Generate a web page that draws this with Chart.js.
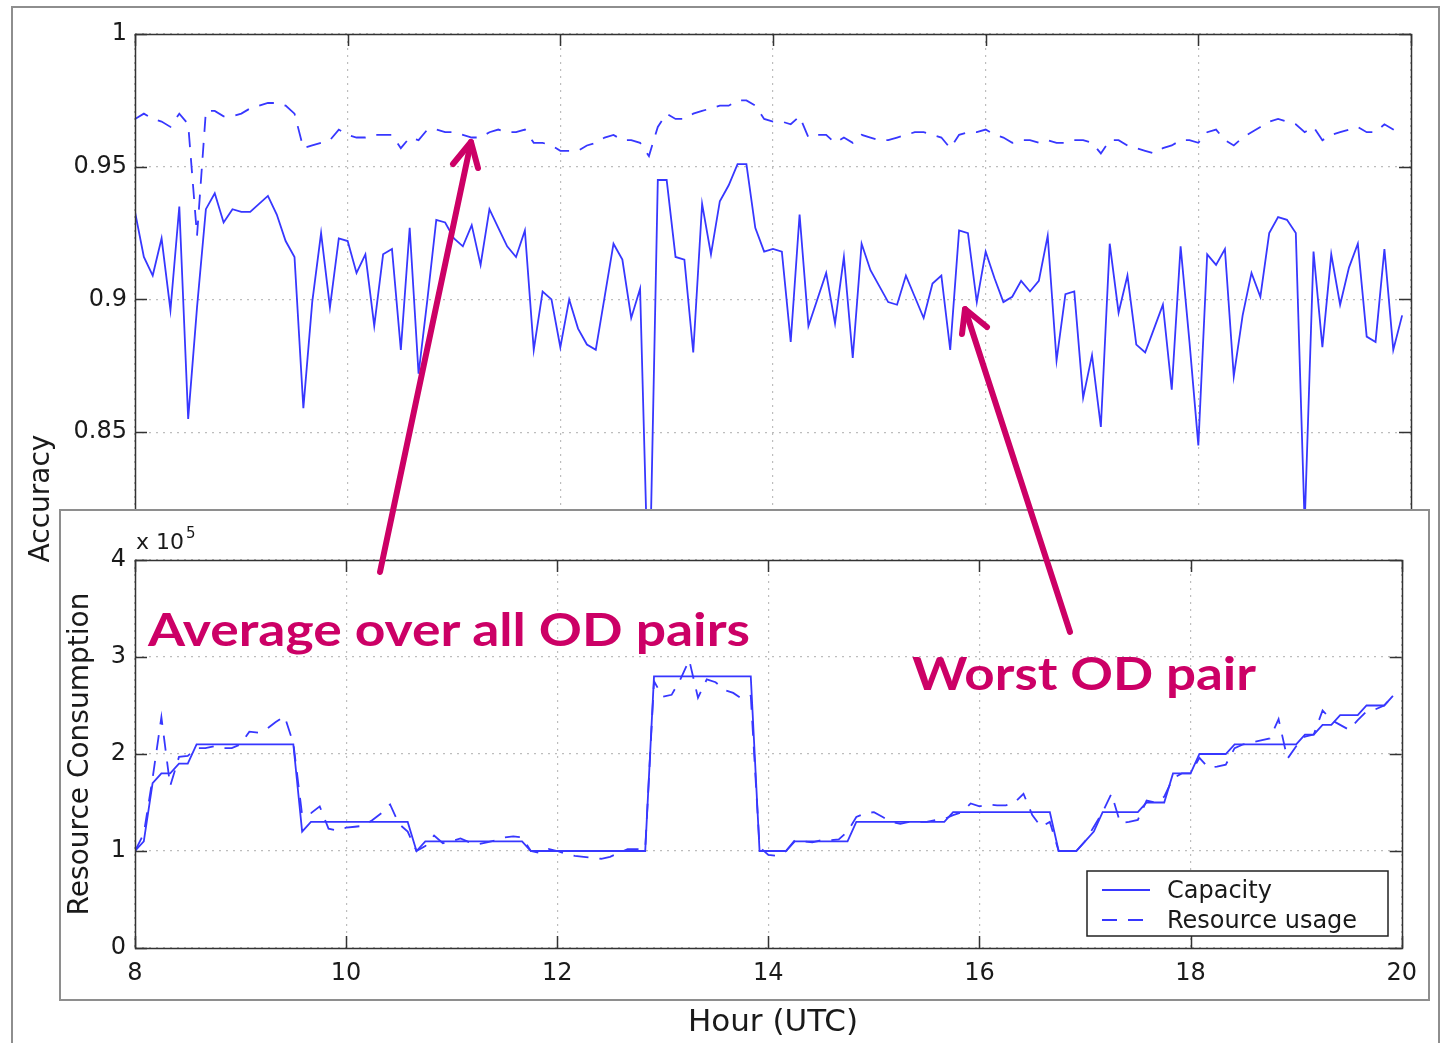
<!DOCTYPE html>
<html>
<head>
<meta charset="utf-8">
<title>Accuracy and resource consumption by hour</title>
<script src="https://cdn.jsdelivr.net/npm/chart.js@4.4.1/dist/chart.umd.min.js"></script>
<style>
  html, body { margin: 0; padding: 0; background: #fff; }
  #page { position: relative; width: 1442px; height: 1043px; overflow: hidden; background: #fff; }
  #frame { position: absolute; left: 11px; top: 6px; width: 1425px; height: 1100px; border: 2px solid #8e8e8e; }
  #mainChart { position: absolute; left: 0; top: 0; }
  #insetBox { position: absolute; left: 59px; top: 509px; width: 1367px; height: 488px; border: 2px solid #8e8e8e; background: #fff; }
  #insetChart { position: absolute; left: 0; top: 0; }
  #marks { position: absolute; left: 0; top: 0; pointer-events: none; }
  .note { position: absolute; color: #cc0066; font-family: "Comic Sans MS", "Lato", sans-serif; font-weight: 700;
          white-space: nowrap; line-height: 1; transform-origin: 0 0; }
</style>
</head>
<body>
<div id="page">
  <div id="frame"></div>
  <canvas id="mainChart" width="1442" height="1043"></canvas>
  <div id="insetBox"><canvas id="insetChart" width="1367" height="488"></canvas></div>
  <svg id="marks" width="1442" height="1043">
    <g stroke="#cc0066" stroke-width="6" stroke-linecap="round" stroke-linejoin="round" fill="none">
      <line x1="380" y1="572" x2="471" y2="142"/>
      <polyline points="453,164 471,142 478,168"/>
      <line x1="1070" y1="632" x2="965" y2="309"/>
      <polyline points="962,334 965,309 987,327"/>
    </g>
  </svg>
  <div class="note" id="noteAvg" data-w="602" style="left:148px; top:606px; font-size:46px;">Average over all OD pairs</div>
  <div class="note" id="noteWorst" data-w="344" style="left:912px; top:650px; font-size:46px;">Worst OD pair</div>
</div>

<script>
// Samples are taken every 5 minutes starting at 08:00 UTC.
const START_HOUR = 8;
const SAMPLE_MINUTES = 5;

const hourTicks = [8, 10, 12, 14, 16, 18, 20];
const accuracyTicks = [0.65, 0.7, 0.75, 0.8, 0.85, 0.9, 0.95, 1];
const consumptionTicks = [0, 1, 2, 3, 4];

// Accuracy of the worst origin-destination pair
const worstPairAccuracy = [
  0.933, 0.916, 0.909, 0.923, 0.896, 0.935, 0.855, 0.897, 0.934, 0.940,
  0.929, 0.934, 0.933, 0.933, 0.936, 0.939, 0.932, 0.922, 0.916, 0.859,
  0.899, 0.925, 0.897, 0.923, 0.922, 0.910, 0.917, 0.890, 0.917, 0.919,
  0.881, 0.927, 0.872, 0.900, 0.930, 0.929, 0.923, 0.920, 0.928, 0.913,
  0.934, 0.927, 0.920, 0.916, 0.926, 0.881, 0.903, 0.900, 0.882, 0.900,
  0.889, 0.883, 0.881, 0.901, 0.921, 0.915, 0.893, 0.904, 0.780, 0.945,
  0.945, 0.916, 0.915, 0.880, 0.936, 0.917, 0.937, 0.943, 0.951, 0.951,
  0.927, 0.918, 0.919, 0.918, 0.884, 0.932, 0.890, 0.900, 0.910, 0.891,
  0.916, 0.878, 0.921, 0.911, 0.905, 0.899, 0.898, 0.909, 0.901, 0.893,
  0.906, 0.909, 0.881, 0.926, 0.925, 0.899, 0.918, 0.908, 0.899, 0.901,
  0.907, 0.903, 0.907, 0.924, 0.877, 0.902, 0.903, 0.863, 0.879, 0.852,
  0.921, 0.895, 0.909, 0.883, 0.880, 0.889, 0.898, 0.866, 0.920, 0.884,
  0.845, 0.917, 0.913, 0.919, 0.871, 0.894, 0.910, 0.901, 0.925, 0.931,
  0.930, 0.925, 0.815, 0.918, 0.882, 0.917, 0.898, 0.912, 0.921, 0.886,
  0.884, 0.919, 0.881, 0.894
];

// Accuracy averaged over all origin-destination pairs
const averageAccuracy = [
  0.968, 0.970, 0.968, 0.967, 0.965, 0.970, 0.966, 0.924, 0.971, 0.971,
  0.969, 0.969, 0.970, 0.972, 0.973, 0.974, 0.974, 0.973, 0.970, 0.957,
  0.958, 0.959, 0.960, 0.964, 0.962, 0.961, 0.961, 0.962, 0.962, 0.962,
  0.957, 0.961, 0.960, 0.964, 0.964, 0.963, 0.963, 0.962, 0.961, 0.961,
  0.963, 0.964, 0.963, 0.963, 0.964, 0.959, 0.959, 0.958, 0.956, 0.956,
  0.956, 0.958, 0.959, 0.961, 0.962, 0.960, 0.960, 0.959, 0.954, 0.965,
  0.970, 0.968, 0.968, 0.970, 0.971, 0.972, 0.973, 0.973, 0.975, 0.975,
  0.973, 0.968, 0.967, 0.967, 0.966, 0.969, 0.961, 0.962, 0.962, 0.959,
  0.961, 0.959, 0.962, 0.961, 0.960, 0.960, 0.961, 0.962, 0.963, 0.963,
  0.962, 0.961, 0.957, 0.962, 0.963, 0.963, 0.964, 0.962, 0.961, 0.959,
  0.960, 0.960, 0.959, 0.960, 0.959, 0.959, 0.960, 0.960, 0.959, 0.955,
  0.960, 0.960, 0.958, 0.957, 0.956, 0.955, 0.957, 0.958, 0.960, 0.960,
  0.959, 0.963, 0.964, 0.960, 0.958, 0.961, 0.963, 0.965, 0.967, 0.968,
  0.967, 0.966, 0.963, 0.965, 0.960, 0.962, 0.963, 0.964, 0.965, 0.963,
  0.963, 0.966, 0.964, 0.962
];

// Provisioned capacity, in units of 10^5
const capacityE5 = [
  1.0, 1.1, 1.7, 1.8, 1.8, 1.9, 1.9, 2.1, 2.1, 2.1,
  2.1, 2.1, 2.1, 2.1, 2.1, 2.1, 2.1, 2.1, 2.1, 1.2,
  1.3, 1.3, 1.3, 1.3, 1.3, 1.3, 1.3, 1.3, 1.3, 1.3,
  1.3, 1.3, 1.0, 1.1, 1.1, 1.1, 1.1, 1.1, 1.1, 1.1,
  1.1, 1.1, 1.1, 1.1, 1.1, 1.0, 1.0, 1.0, 1.0, 1.0,
  1.0, 1.0, 1.0, 1.0, 1.0, 1.0, 1.0, 1.0, 1.0, 2.8,
  2.8, 2.8, 2.8, 2.8, 2.8, 2.8, 2.8, 2.8, 2.8, 2.8,
  2.8, 1.0, 1.0, 1.0, 1.0, 1.1, 1.1, 1.1, 1.1, 1.1,
  1.1, 1.1, 1.3, 1.3, 1.3, 1.3, 1.3, 1.3, 1.3, 1.3,
  1.3, 1.3, 1.3, 1.4, 1.4, 1.4, 1.4, 1.4, 1.4, 1.4,
  1.4, 1.4, 1.4, 1.4, 1.4, 1.0, 1.0, 1.0, 1.1, 1.2,
  1.4, 1.4, 1.4, 1.4, 1.4, 1.5, 1.5, 1.5, 1.8, 1.8,
  1.8, 2.0, 2.0, 2.0, 2.0, 2.1, 2.1, 2.1, 2.1, 2.1,
  2.1, 2.1, 2.1, 2.2, 2.2, 2.3, 2.3, 2.4, 2.4, 2.4,
  2.5, 2.5, 2.5, 2.6
];

// Measured resource usage, in units of 10^5
const resourceUsageE5 = [
  1.00, 1.18, 1.75, 2.38, 1.67, 1.97, 1.98, 2.06, 2.06, 2.08,
  2.06, 2.06, 2.10, 2.23, 2.22, 2.26, 2.33, 2.39, 2.11, 1.37,
  1.39, 1.46, 1.23, 1.21, 1.24, 1.25, 1.26, 1.32, 1.39, 1.48,
  1.28, 1.20, 1.00, 1.05, 1.16, 1.08, 1.10, 1.13, 1.09, 1.07,
  1.09, 1.11, 1.14, 1.15, 1.14, 1.00, 0.98, 1.02, 1.00, 0.97,
  0.95, 0.94, 0.93, 0.92, 0.94, 0.98, 1.02, 1.02, 1.02, 2.75,
  2.59, 2.61, 2.77, 2.97, 2.58, 2.77, 2.74, 2.66, 2.63, 2.57,
  2.60, 1.04, 0.96, 0.95, 1.00, 1.11, 1.10, 1.09, 1.11, 1.11,
  1.12, 1.20, 1.35, 1.39, 1.40, 1.35, 1.30, 1.28, 1.30, 1.30,
  1.30, 1.32, 1.33, 1.37, 1.40, 1.49, 1.46, 1.48, 1.47, 1.47,
  1.50, 1.59, 1.37, 1.25, 1.30, 1.00, 1.00, 1.00, 1.10, 1.25,
  1.40, 1.59, 1.29, 1.30, 1.32, 1.52, 1.50, 1.56, 1.75, 1.80,
  1.80, 1.96, 1.86, 1.87, 1.89, 2.06, 2.10, 2.12, 2.14, 2.16,
  2.36, 1.95, 2.08, 2.18, 2.20, 2.45, 2.35, 2.30, 2.25, 2.35,
  2.44, 2.46, 2.50, 2.60
];

const LINE_BLUE = 'rgb(55, 55, 255)';
const AXIS_FONT = '"DejaVu Sans", sans-serif';
const TEXT_COLOR = '#1a1a1a';

const toPoints = values => values.map((v, i) => ({ x: START_HOUR + i * SAMPLE_MINUTES / 60, y: v }));
const trimNumber = v => String(Number(v.toFixed(2)));

// Box around the plotting area with inward-pointing tick marks on every side.
const boxedAxes = {
  id: 'boxedAxes',
  afterDatasetsDraw(chart, args, opts) {
    const { ctx, chartArea: a, scales: { x, y } } = chart;
    const L = opts.tickLength;
    ctx.save();
    ctx.strokeStyle = opts.color;
    ctx.lineWidth = opts.width;
    ctx.beginPath();
    x.ticks.forEach(t => {
      const px = Math.round(x.getPixelForValue(t.value)) + 0.5;
      ctx.moveTo(px, a.bottom); ctx.lineTo(px, a.bottom - L);
      ctx.moveTo(px, a.top); ctx.lineTo(px, a.top + L);
    });
    y.ticks.forEach(t => {
      const py = Math.round(y.getPixelForValue(t.value)) + 0.5;
      ctx.moveTo(a.left, py); ctx.lineTo(a.left + L, py);
      ctx.moveTo(a.right, py); ctx.lineTo(a.right - L, py);
    });
    ctx.stroke();
    ctx.strokeRect(Math.round(a.left) + 0.5, Math.round(a.top) + 0.5, Math.round(a.width), Math.round(a.height));
    ctx.restore();
  }
};

// Exponent note above the value axis and a boxed key in the lower right corner.
const insetDecorations = {
  id: 'insetDecorations',
  afterDraw(chart, args, opts) {
    const { ctx, chartArea: a } = chart;
    ctx.save();
    ctx.fillStyle = TEXT_COLOR;
    ctx.textBaseline = 'alphabetic';
    ctx.textAlign = 'left';
    ctx.font = '22px ' + AXIS_FONT;
    ctx.fillText('x 10', a.left + 1, a.top - 11);
    const w = ctx.measureText('x 10').width;
    ctx.font = '15px ' + AXIS_FONT;
    ctx.fillText(opts.exponent, a.left + 3 + w, a.top - 22);

    const box = opts.legendBox;
    ctx.fillStyle = '#fff';
    ctx.fillRect(box.left, box.top, box.width, box.height);
    ctx.strokeStyle = '#222';
    ctx.lineWidth = 1.5;
    ctx.strokeRect(box.left, box.top, box.width, box.height);
    ctx.font = '24px ' + AXIS_FONT;
    ctx.textBaseline = 'middle';
    chart.data.datasets.forEach((ds, i) => {
      const yy = box.top + 19 + i * 30;
      ctx.strokeStyle = ds.borderColor;
      ctx.lineWidth = ds.borderWidth;
      ctx.setLineDash(ds.borderDash || []);
      ctx.beginPath();
      ctx.moveTo(box.left + 15, yy);
      ctx.lineTo(box.left + 63, yy);
      ctx.stroke();
      ctx.setLineDash([]);
      ctx.fillStyle = TEXT_COLOR;
      ctx.fillText(ds.label, box.left + 80, yy + 2);
    });
    ctx.restore();
  }
};

const dottedGrid = { color: '#bdbdbd', lineWidth: 1.2, drawTicks: false };
const gridDash = { display: false, dash: [2, 5] };

new Chart(document.getElementById('mainChart'), {
  type: 'line',
  data: {
    datasets: [
      { label: 'Worst OD pair', data: toPoints(worstPairAccuracy), borderColor: LINE_BLUE, borderWidth: 1.8,
        pointRadius: 0, tension: 0 },
      { label: 'Average over all OD pairs', data: toPoints(averageAccuracy), borderColor: LINE_BLUE, borderWidth: 1.8,
        borderDash: [15, 11], pointRadius: 0, tension: 0 }
    ]
  },
  options: {
    responsive: false,
    animation: false,
    events: [],
    layout: { padding: { left: 20, top: 34, right: 31, bottom: 1 } },
    plugins: { legend: { display: false }, tooltip: { enabled: false }, boxedAxes: { color: '#333', width: 1.5, tickLength: 12 } },
    scales: {
      x: {
        type: 'linear', min: 8, max: 20,
        afterBuildTicks: s => { s.ticks = hourTicks.map(v => ({ value: v })); },
        afterFit: s => { s.height = 79; },
        grid: dottedGrid, border: gridDash,
        ticks: { font: { family: AXIS_FONT, size: 24 }, color: TEXT_COLOR, padding: 10 },
        title: { display: true, text: 'Hour (UTC)', font: { family: AXIS_FONT, size: 31 }, color: TEXT_COLOR, padding: { top: 0, bottom: 0 } }
      },
      y: {
        min: 0.65, max: 1,
        afterBuildTicks: s => { s.ticks = accuracyTicks.map(v => ({ value: v })); },
        afterFit: s => { s.width = 115; },
        grid: dottedGrid, border: gridDash,
        ticks: { font: { family: AXIS_FONT, size: 24 }, color: TEXT_COLOR, padding: 8, callback: v => trimNumber(v) },
        title: { display: true, text: 'Accuracy', font: { family: AXIS_FONT, size: 28 }, color: TEXT_COLOR, padding: { top: 5, bottom: 0 } }
      }
    }
  },
  plugins: [boxedAxes]
});

new Chart(document.getElementById('insetChart'), {
  type: 'line',
  data: {
    datasets: [
      { label: 'Capacity', data: toPoints(capacityE5), borderColor: LINE_BLUE, borderWidth: 1.8,
        pointRadius: 0, tension: 0 },
      { label: 'Resource usage', data: toPoints(resourceUsageE5), borderColor: LINE_BLUE, borderWidth: 1.8,
        borderDash: [15, 11], pointRadius: 0, tension: 0 }
    ]
  },
  options: {
    responsive: false,
    animation: false,
    events: [],
    layout: { padding: { left: 0, top: 49, right: 26, bottom: 0 } },
    plugins: {
      legend: { display: false }, tooltip: { enabled: false },
      boxedAxes: { color: '#333', width: 1.5, tickLength: 12 },
      insetDecorations: { exponent: '5', legendBox: { left: 1026, top: 360, width: 301, height: 65 } }
    },
    scales: {
      x: {
        type: 'linear', min: 8, max: 20,
        afterBuildTicks: s => { s.ticks = hourTicks.map(v => ({ value: v })); },
        afterFit: s => { s.height = 51; },
        grid: dottedGrid, border: gridDash,
        ticks: { font: { family: AXIS_FONT, size: 24 }, color: TEXT_COLOR, padding: 11 }
      },
      y: {
        min: 0, max: 4,
        afterBuildTicks: s => { s.ticks = consumptionTicks.map(v => ({ value: v })); },
        afterFit: s => { s.width = 74; },
        grid: dottedGrid, border: gridDash,
        ticks: { font: { family: AXIS_FONT, size: 24 }, color: TEXT_COLOR, padding: 9 },
        title: { display: true, text: 'Resource Consumption', font: { family: AXIS_FONT, size: 28 }, color: TEXT_COLOR, padding: { top: 3, bottom: 0 } }
      }
    }
  },
  plugins: [boxedAxes, insetDecorations]
});

// Stretch each callout to its set width.
function fitNotes() {
  document.querySelectorAll('.note').forEach(el => {
    el.style.transform = 'none';
    const w = el.getBoundingClientRect().width;
    el.style.transform = 'scaleX(' + (Number(el.dataset.w) / w) + ')';
  });
}
fitNotes();
if (document.fonts && document.fonts.ready) document.fonts.ready.then(fitNotes);
</script>
</body>
</html>
